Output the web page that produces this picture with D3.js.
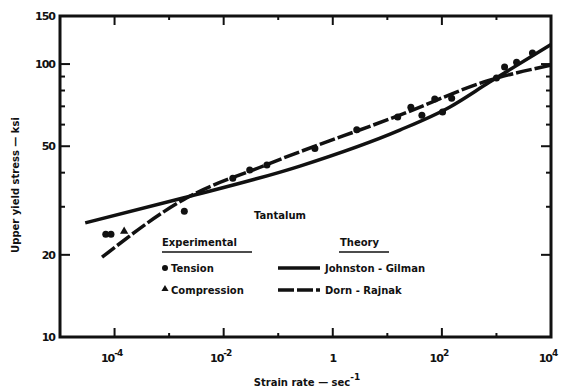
<!DOCTYPE html>
<html>
<head>
<meta charset="utf-8">
<script src="https://cdn.jsdelivr.net/npm/d3@7"></script>
<style>
  body { margin: 0; background: #fff; }
  text { font-family: "DejaVu Sans", sans-serif; font-weight: bold; fill: #111; }
</style>
</head>
<body>
<svg id="canvas"></svg>
<script>
const svg = d3.select("#canvas")
  .attr("width", 561)
  .attr("height", 391);

// === data === //
// theory curves, [strain rate, stress ksi]
const johnstonGilman = [
  [2.9e-5, 26.2], [1.8e-3, 32.3], [0.25, 42.3], [16.9, 57.3],
  [138, 69.5], [750, 85.9], [1e4, 118]
];
const dornRajnak = [
  [5.9e-5, 19.6], [1.8e-3, 31.8], [0.065, 43.0],
  [16.9, 65.0], [750, 87.3], [1e4, 99.1]
];
// experimental points
const tension = [
  [6.9e-5, 23.8], [8.6e-5, 23.8], [1.9e-3, 28.9], [0.0147, 38.2],
  [0.030, 40.9], [0.062, 42.7], [0.47, 49.0], [2.75, 57.5],
  [15.5, 64.0], [27, 69.5], [43, 65], [74, 74.5], [103, 66.7],
  [151, 75], [1000, 88.9], [1410, 97.5], [2340, 101.6], [4570, 109.7]
];
const compression = [[1.5e-4, 24.4]];

const xMajor = [1e-4, 1e-2, 1, 1e2];
const xMinor = [1e-3, 1e-1, 10, 1e3];
const xLabels = [[1e-4, "10", "-4"], [1e-2, "10", "-2"], [1, "1", ""], [1e2, "10", "2"], [1e4, "10", "4"]];
const yMajor = [20, 50, 100];
const yMinor = [30, 40, 60, 70, 80, 90];
const yLabels = [10, 20, 50, 100, 150];

// scales
const x = d3.scaleLog().domain([1e-5, 1e4]).range([60, 551]);
const y = d3.scaleLog().domain([10, 150]).range([337, 16]);

// frame
svg.append("rect")
  .attr("x", 60).attr("y", 16)
  .attr("width", 491).attr("height", 321)
  .attr("fill", "none")
  .attr("stroke", "#111")
  .attr("stroke-width", 3);

// ticks pointing inward, both sides
const tickG = svg.append("g").attr("stroke", "#111").attr("stroke-width", 2);
function xTicks(vals, len) {
  vals.forEach(v => {
    tickG.append("line").attr("x1", x(v)).attr("x2", x(v)).attr("y1", 337).attr("y2", 337 - len);
    tickG.append("line").attr("x1", x(v)).attr("x2", x(v)).attr("y1", 16).attr("y2", 16 + len);
  });
}
function yTicks(vals, len) {
  vals.forEach(v => {
    tickG.append("line").attr("x1", 60).attr("x2", 60 + len).attr("y1", y(v)).attr("y2", y(v));
    tickG.append("line").attr("x1", 551).attr("x2", 551 - len).attr("y1", y(v)).attr("y2", y(v));
  });
}
xTicks(xMajor, 9);
xTicks(xMinor, 4);
yTicks(yMajor, 10);
yTicks(yMinor, 5);

// tick labels
svg.selectAll(".ylab")
  .data(yLabels)
  .join("text")
  .attr("class", "ylab")
  .attr("x", 55)
  .attr("y", d => y(d) + 4)
  .attr("text-anchor", "end")
  .attr("font-size", 11)
  .attr("letter-spacing", -1)
  .text(d => d);

const xl = svg.selectAll(".xlab")
  .data(xLabels)
  .join("text")
  .attr("class", "xlab")
  .attr("x", d => x(d[0]) + (d[2] ? -3 : 0))
  .attr("y", 362)
  .attr("text-anchor", "middle")
  .attr("font-size", 11)
  .attr("letter-spacing", -1);
xl.append("tspan").text(d => d[1]);
xl.append("tspan").attr("dy", -6).attr("font-size", 9).text(d => d[2]);

// axis titles
const xt = svg.append("text")
  .attr("x", 307).attr("y", 386)
  .attr("text-anchor", "middle")
  .attr("font-size", 10);
xt.append("tspan").text("Strain rate \u2014 sec");
xt.append("tspan").attr("dy", -6).attr("font-size", 9).text("-1");

svg.append("text")
  .attr("transform", "translate(19,185) rotate(-90)")
  .attr("text-anchor", "middle")
  .attr("font-size", 10)
  .text("Upper yield stress \u2014 ksi");

// theory curves
const line = d3.line()
  .x(d => x(d[0]))
  .y(d => y(d[1]))
  .curve(d3.curveMonotoneX);

svg.append("path")
  .datum(johnstonGilman)
  .attr("d", line)
  .attr("fill", "none")
  .attr("stroke", "#111")
  .attr("stroke-width", 3.5);

svg.append("path")
  .datum(dornRajnak)
  .attr("d", line)
  .attr("fill", "none")
  .attr("stroke", "#111")
  .attr("stroke-width", 3.5)
  .attr("stroke-dasharray", "16,3");

// experimental points
svg.selectAll(".ten")
  .data(tension)
  .join("circle")
  .attr("class", "ten")
  .attr("cx", d => x(d[0]))
  .attr("cy", d => y(d[1]))
  .attr("r", 3.5)
  .attr("fill", "#111");

svg.selectAll(".comp")
  .data(compression)
  .join("path")
  .attr("class", "comp")
  .attr("transform", d => `translate(${x(d[0])},${y(d[1])})`)
  .attr("d", d3.symbol(d3.symbolTriangle, 30))
  .attr("fill", "#111");

// legend
svg.append("text").attr("x", 280).attr("y", 219)
  .attr("text-anchor", "middle").attr("font-size", 10).text("Tantalum");

svg.append("text").attr("x", 162).attr("y", 246).attr("font-size", 10).text("Experimental");
svg.append("line").attr("x1", 162).attr("x2", 252).attr("y1", 252).attr("y2", 252)
  .attr("stroke", "#111").attr("stroke-width", 1.5);
svg.append("text").attr("x", 340).attr("y", 246).attr("font-size", 10).text("Theory");
svg.append("line").attr("x1", 339).attr("x2", 389).attr("y1", 252).attr("y2", 252)
  .attr("stroke", "#111").attr("stroke-width", 1.5);

svg.append("circle").attr("cx", 165).attr("cy", 268).attr("r", 3).attr("fill", "#111");
svg.append("text").attr("x", 171).attr("y", 272).attr("font-size", 10).text("Tension");
svg.append("path").attr("transform", "translate(165,289)")
  .attr("d", d3.symbol(d3.symbolTriangle, 22)).attr("fill", "#111");
svg.append("text").attr("x", 171).attr("y", 294).attr("font-size", 10).text("Compression");

svg.append("line").attr("x1", 278).attr("x2", 320).attr("y1", 268).attr("y2", 268)
  .attr("stroke", "#111").attr("stroke-width", 3.5);
svg.append("text").attr("x", 325).attr("y", 272).attr("font-size", 10).text("Johnston - Gilman");
svg.append("line").attr("x1", 278).attr("x2", 320).attr("y1", 290).attr("y2", 290)
  .attr("stroke", "#111").attr("stroke-width", 3.5).attr("stroke-dasharray", "16,3");
svg.append("text").attr("x", 325).attr("y", 294).attr("font-size", 10).text("Dorn - Rajnak");
</script>
</body>
</html>
